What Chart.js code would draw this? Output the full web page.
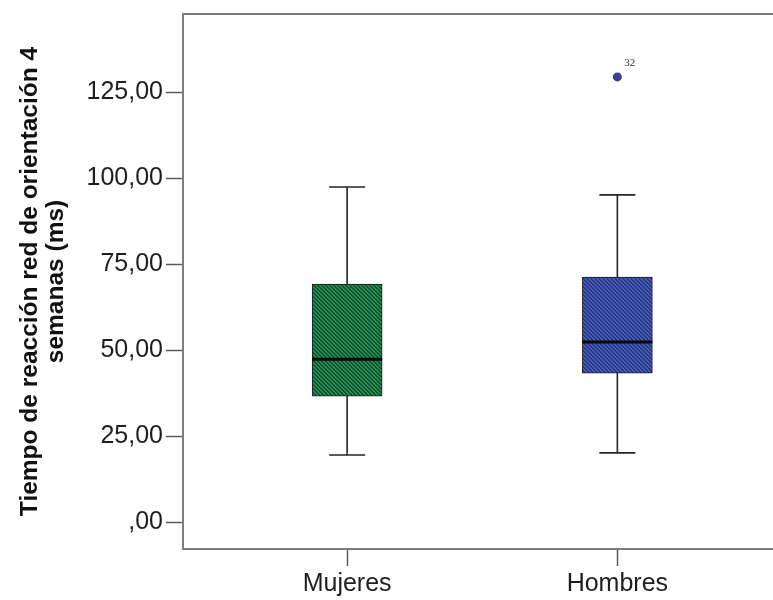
<!DOCTYPE html>
<html>
<head>
<meta charset="utf-8">
<script src="https://cdn.jsdelivr.net/npm/chart.js@4/dist/chart.umd.min.js"></script>
<style>
  html, body { margin: 0; padding: 0; background: #ffffff; overflow: hidden; }
  #c { display: block; }
</style>
</head>
<body>
<canvas id="c" width="778" height="600"></canvas>
<script>
// Reaction time of the orienting network at 4 weeks, by sex (box plot)
const categories = ['Mujeres', 'Hombres'];
const whiskerLow = [19.5, 20.1];
const q1 = [36.6, 43.3];
const median = [47.3, 52.3];
const q3 = [69.2, 71.2];
const whiskerHigh = [97.4, 95.1];
const outlierValues = [null, 129.4];
const outlierIds = [null, '32'];
const yTickValues = [0, 25, 50, 75, 100, 125];
const yTickLabels = [',00', '25,00', '50,00', '75,00', '100,00', '125,00'];
const yTitle = ['Tiempo de reacción red de orientación 4', 'semanas (ms)'];

const canvas = document.getElementById('c');
const ctx = canvas.getContext('2d');

// diagonal hatch fill for the boxes
function hatch(base, stripe) {
  const t = document.createElement('canvas');
  t.width = 4; t.height = 4;
  const g = t.getContext('2d');
  g.fillStyle = base;
  g.fillRect(0, 0, 4, 4);
  g.fillStyle = stripe;
  for (let i = 0; i < 4; i++) {
    g.fillRect(i, i, 1, 1);
    g.fillRect((i + 1) % 4, i, 1, 1);
  }
  return ctx.createPattern(t, 'repeat');
}
const boxFills = [hatch('#2b8a52', '#0f552d'), hatch('#4a5db0', '#26368a')];

const FONT = "'Liberation Sans', Arial, sans-serif";

const boxPlotLines = {
  id: 'boxPlotLines',
  afterDatasetsDraw(chart) {
    const { ctx, scales: { x, y }, chartArea } = chart;
    const bars = chart.getDatasetMeta(0).data;
    ctx.save();
    categories.forEach((c, i) => {
      const cx = x.getPixelForValue(i + 1);
      const capHalf = 18;
      const yHi = y.getPixelForValue(whiskerHigh[i]);
      const yLo = y.getPixelForValue(whiskerLow[i]);
      ctx.strokeStyle = '#262626';
      ctx.lineWidth = 1.6;
      ctx.beginPath();
      ctx.moveTo(cx, y.getPixelForValue(q3[i]));
      ctx.lineTo(cx, yHi);
      ctx.moveTo(cx, y.getPixelForValue(q1[i]));
      ctx.lineTo(cx, yLo);
      ctx.moveTo(cx - capHalf, yHi);
      ctx.lineTo(cx + capHalf, yHi);
      ctx.moveTo(cx - capHalf, yLo);
      ctx.lineTo(cx + capHalf, yLo);
      ctx.stroke();
      // median
      const half = bars[i].width / 2;
      const ym = y.getPixelForValue(median[i]);
      ctx.strokeStyle = '#0a0a0a';
      ctx.lineWidth = 3;
      ctx.beginPath();
      ctx.moveTo(cx - half, ym);
      ctx.lineTo(cx + half, ym);
      ctx.stroke();
      // outlier case number
      if (outlierValues[i] !== null) {
        ctx.fillStyle = '#333333';
        ctx.font = "11px 'Liberation Serif', serif";
        ctx.textAlign = 'left';
        ctx.textBaseline = 'middle';
        ctx.fillText(outlierIds[i], cx + 7, y.getPixelForValue(outlierValues[i]) - 14);
      }
    });
    // top frame line
    ctx.strokeStyle = '#7d7d7d';
    ctx.lineWidth = 2;
    ctx.beginPath();
    ctx.moveTo(chartArea.left, chartArea.top);
    ctx.lineTo(chartArea.right + 10, chartArea.top);
    ctx.stroke();
    ctx.restore();
  }
};

new Chart(ctx, {
  type: 'bar',
  data: {
    datasets: [
      {
        type: 'bar',
        data: categories.map((c, i) => ({ x: i + 1, y: [q1[i], q3[i]] })),
        backgroundColor: boxFills,
        borderColor: '#1c1c1c',
        borderWidth: 1,
        borderSkipped: false,
        barThickness: 70
      },
      {
        type: 'scatter',
        data: outlierValues
          .map((v, i) => (v === null ? null : { x: i + 1, y: v }))
          .filter(p => p !== null),
        pointRadius: 4.5,
        pointBackgroundColor: '#3a3f8e',
        pointBorderColor: '#3a3f8e',
        pointBorderWidth: 0
      }
    ]
  },
  options: {
    responsive: false,
    animation: false,
    devicePixelRatio: 1,
    layout: { padding: { top: 14, right: 0, bottom: 0, left: 0 } },
    plugins: { legend: { display: false }, tooltip: { enabled: false } },
    scales: {
      x: {
        type: 'linear',
        offset: false,
        min: 0.3926,
        max: 2.5778,
        afterFit(s) { s.height = 51; },
        afterBuildTicks(s) { s.ticks = categories.map((c, i) => ({ value: i + 1 })); },
        grid: { offset: false, drawOnChartArea: false, drawTicks: true, tickLength: 17, tickColor: '#5a5a5a', tickWidth: 1.5 },
        border: { display: true, color: '#7d7d7d', width: 2 },
        ticks: {
          padding: 3,
          color: '#1e1e1e',
          font: { family: FONT, size: 25 },
          callback(v) { return categories[Math.round(v) - 1]; }
        }
      },
      y: {
        type: 'linear',
        min: -7.85,
        max: 147.7,
        afterFit(s) { s.width = 183; s.paddingTop = 0; s.paddingBottom = 0; },
        afterBuildTicks(s) { s.ticks = yTickValues.map(v => ({ value: v })); },
        grid: { drawOnChartArea: false, drawTicks: true, tickLength: 17, tickColor: '#5a5a5a', tickWidth: 1.5 },
        border: { display: true, color: '#7d7d7d', width: 2 },
        ticks: {
          padding: 3,
          color: '#1e1e1e',
          font: { family: FONT, size: 25 },
          callback(v) { return yTickLabels[yTickValues.indexOf(v)]; }
        },
        title: {
          display: true,
          text: yTitle,
          color: '#111111',
          padding: { top: 18, bottom: 0 },
          font: { family: FONT, size: 24.5, weight: 'bold', lineHeight: 1.03 }
        }
      }
    }
  },
  plugins: [boxPlotLines]
});
</script>
</body>
</html>
